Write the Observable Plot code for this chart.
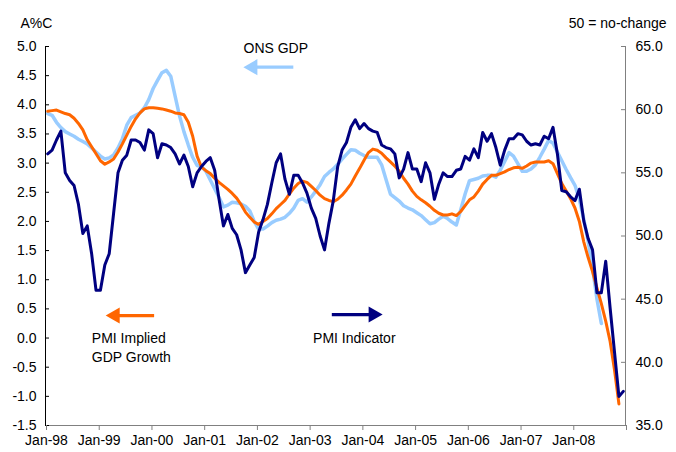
<!DOCTYPE html>
<html><head><meta charset="utf-8">
<script src="https://cdn.jsdelivr.net/npm/d3@7"></script>
<script src="https://cdn.jsdelivr.net/npm/@observablehq/plot@0.6"></script>
<style>
body{margin:0;background:#fff;}
#chart{width:676px;height:452px;}
</style></head><body><div id="chart"></div>
<script>
// Monthly series, first value = Jan-1998
const startYear = 1998;

// PMI Indicator (right axis, 50 = no-change)
const pmiIndicator = [
  56.5,56.8,57.6,58.3,55.0,54.4,54.0,52.5,50.2,50.8,48.6,45.7,
  45.7,47.7,48.6,51.8,55.0,56.0,56.4,57.6,57.6,57.4,56.8,58.4,
  58.1,56.2,57.3,57.2,57.0,56.5,55.7,56.4,55.5,53.9,55.0,55.5,
  55.9,56.2,55.2,52.9,50.8,51.7,50.6,50.1,48.9,47.1,47.7,48.3,
  50.3,51.3,52.5,54.2,55.8,56.5,54.5,53.3,54.8,54.8,54.2,53.4,
  52.2,51.4,50.0,48.9,51.0,52.8,55.5,56.8,57.4,58.6,59.2,58.5,
  58.9,58.5,58.3,58.2,57.2,57.0,56.9,56.5,54.6,55.3,56.6,55.3,
  55.3,54.3,55.8,55.0,52.9,54.1,55.0,54.7,54.7,55.2,55.3,56.3,
  56.0,56.9,56.2,58.2,57.5,58.1,57.0,55.6,56.8,57.7,57.7,58.1,
  58.0,57.5,57.2,57.3,57.2,57.9,57.7,58.6,56.5,53.6,53.5,53.1,
  52.8,53.7,51.2,49.8,48.9,45.5,45.5,48.0,44.3,40.8,37.3,37.7
];

// PMI Implied GDP Growth (left axis, A%C)
const pmiImplied = [
  3.89,3.90,3.91,3.88,3.85,3.83,3.77,3.68,3.57,3.40,3.28,3.16,
  3.04,2.98,3.02,3.07,3.19,3.33,3.48,3.63,3.76,3.86,3.93,3.95,
  3.95,3.94,3.93,3.91,3.89,3.86,3.85,3.83,3.70,3.46,3.12,2.93,
  2.87,2.82,2.74,2.67,2.61,2.55,2.48,2.40,2.29,2.16,2.07,1.99,
  1.95,2.00,2.05,2.13,2.22,2.29,2.36,2.47,2.57,2.65,2.69,2.67,
  2.60,2.53,2.45,2.39,2.36,2.34,2.38,2.45,2.54,2.64,2.78,2.91,
  3.05,3.18,3.24,3.22,3.17,3.09,3.02,2.95,2.86,2.74,2.64,2.52,
  2.43,2.37,2.32,2.26,2.19,2.14,2.11,2.11,2.13,2.10,2.17,2.27,
  2.37,2.42,2.52,2.64,2.72,2.79,2.79,2.82,2.85,2.89,2.92,2.93,
  2.91,2.95,3.00,3.02,3.02,3.02,3.04,2.99,2.82,2.65,2.52,2.39,
  2.23,2.00,1.65,1.38,1.14,0.86,0.59,0.29,-0.06,-0.55,-1.13
];

// ONS GDP (left axis, A%C)
const onsGdp = [
  3.85,3.82,3.70,3.61,3.54,3.50,3.46,3.41,3.37,3.33,3.26,3.19,
  3.12,3.07,3.09,3.14,3.26,3.42,3.65,3.78,3.82,3.86,3.95,4.09,
  4.28,4.42,4.55,4.59,4.49,4.15,3.81,3.54,3.31,3.10,2.96,2.94,
  2.86,2.71,2.56,2.41,2.25,2.28,2.33,2.32,2.30,2.26,2.18,2.00,
  1.87,1.87,1.92,1.98,2.02,2.04,2.07,2.14,2.23,2.36,2.39,2.33,
  2.42,2.52,2.63,2.77,2.84,2.90,2.98,3.07,3.15,3.23,3.22,3.17,
  3.13,3.10,3.10,3.10,2.97,2.72,2.47,2.41,2.35,2.27,2.23,2.20,
  2.15,2.10,2.03,1.96,1.98,2.04,2.09,2.05,1.99,1.94,2.20,2.47,
  2.70,2.72,2.74,2.78,2.79,2.79,2.76,2.88,3.03,3.18,3.12,2.99,
  2.86,2.86,2.90,2.97,3.10,3.24,3.39,3.34,3.19,3.04,2.89,2.75,
  2.62,2.38,2.04,1.66,1.21,0.67,0.25
];

const leftTicks = [-1.5,-1.0,-0.5,0.0,0.5,1.0,1.5,2.0,2.5,3.0,3.5,4.0,4.5,5.0];
const rightTicks = [35,40,45,50,55,60,65];
const xTickYears = [1998,1999,2000,2001,2002,2003,2004,2005,2006,2007,2008,2009];
const xTickLabels = ["Jan-98","Jan-99","Jan-00","Jan-01","Jan-02","Jan-03","Jan-04","Jan-05","Jan-06","Jan-07","Jan-08",""];

// map right-axis (PMI) values onto the left-axis scale
const toLeft = r => -1.5 + (r - 35) * 6.5 / 30;
const fromLeft = l => 35 + (l + 1.5) * 30 / 6.5;

const monthX = i => startYear + (i + 0.5) / 12;
const onsRows = onsGdp.map((v, i) => ({x: monthX(i), y: v}));
const impliedRows = pmiImplied.map((v, i) => ({x: monthX(i), y: v}));
const pmiRows = pmiIndicator.map((v, i) => ({x: monthX(i), y: toLeft(v)}));

const NAVY = "#000080", ORANGE = "#FF6600", LIGHT = "#99CCFF";
const font = "'Liberation Sans', Arial, Helvetica, sans-serif";

const chart = Plot.plot({
  width: 676, height: 452,
  marginLeft: 45, marginRight: 51, marginTop: 46, marginBottom: 27,
  style: {fontFamily: font, fontSize: "14px", color: "#000", background: "#fff", overflow: "visible"},
  x: {domain: [1998, 2009], axis: null, label: null},
  y: {domain: [-1.5, 5], axis: null, label: null},
  marks: [
    // axis lines
    Plot.ruleY([-1.5], {stroke: "#808080", strokeWidth: 1}),
    Plot.ruleX([1998], {stroke: "#000", strokeWidth: 1}),
    Plot.ruleX([2009], {stroke: "#808080", strokeWidth: 1}),
    // left axis: inward ticks + labels
    Plot.axisY(leftTicks, {anchor: "left", tickSize: 4, dx: 4, stroke: "#000", fill: "none", label: null}),
    Plot.axisY(leftTicks, {anchor: "left", tickSize: 0, tickPadding: 9, tickFormat: d => d.toFixed(1), fill: "#000", fontSize: 14, label: null}),
    // right axis: inward ticks + labels
    Plot.axisY(rightTicks.map(toLeft), {anchor: "right", tickSize: 5, dx: -5, stroke: "#808080", fill: "none", label: null}),
    Plot.axisY(rightTicks.map(toLeft), {anchor: "right", tickSize: 0, tickPadding: 10, tickFormat: d => fromLeft(d).toFixed(1), fill: "#000", fontSize: 14, label: null}),
    // x axis
    Plot.axisX(xTickYears, {anchor: "bottom", tickSize: 5, tickPadding: 5, stroke: "#808080", fill: "#000", fontSize: 14, dx: 1,
      tickFormat: d => xTickLabels[xTickYears.indexOf(d)], label: null}),
    // series
    Plot.line(onsRows, {x: "x", y: "y", stroke: LIGHT, strokeWidth: 3.5}),
    Plot.line(impliedRows, {x: "x", y: "y", stroke: ORANGE, strokeWidth: 3}),
    Plot.line(pmiRows, {x: "x", y: "y", stroke: NAVY, strokeWidth: 3}),
    // header texts
    Plot.text(["A%C"], {frameAnchor: "top-left", dx: -25, dy: -28, textAnchor: "start", fontSize: 14, fill: "#000"}),
    Plot.text(["50 = no-change"], {frameAnchor: "top-right", dx: 41, dy: -28, textAnchor: "end", fontSize: 14, fill: "#000"}),
    // ONS GDP annotation
    Plot.text(["ONS GDP"], {x: 2001.755, y: 4.97, textAnchor: "start", fontSize: 14, fill: "#000"}),
    Plot.link([0], {x1: 2001.93, x2: 2002.70, y1: 4.645, y2: 4.645, stroke: LIGHT, strokeWidth: 3.3}),
    Plot.dot([0], {x: 2001.93, y: 4.645, symbol: "triangle", r: 6, rotate: -90, fill: LIGHT, stroke: null}),
    // PMI implied annotation
    Plot.link([0], {x1: 1999.318, x2: 2000.06, y1: 0.386, y2: 0.386, stroke: ORANGE, strokeWidth: 3.3}),
    Plot.dot([0], {x: 1999.318, y: 0.386, symbol: "triangle", r: 6, rotate: -90, fill: ORANGE, stroke: null}),
    Plot.text(["PMI Implied"], {x: 1998.878, y: -0.014, textAnchor: "start", fontSize: 14, fill: "#000"}),
    Plot.text(["GDP Growth"], {x: 1998.878, y: -0.33, textAnchor: "start", fontSize: 14, fill: "#000"}),
    // PMI indicator annotation
    Plot.link([0], {x1: 2003.43, x2: 2004.217, y1: 0.403, y2: 0.403, stroke: NAVY, strokeWidth: 3.3}),
    Plot.dot([0], {x: 2004.217, y: 0.403, symbol: "triangle", r: 6, rotate: 90, fill: NAVY, stroke: null}),
    Plot.text(["PMI Indicator"], {x: 2003.075, y: -0.014, textAnchor: "start", fontSize: 14, fill: "#000"})
  ]
});
document.getElementById("chart").appendChild(chart);
</script>
</body></html>
